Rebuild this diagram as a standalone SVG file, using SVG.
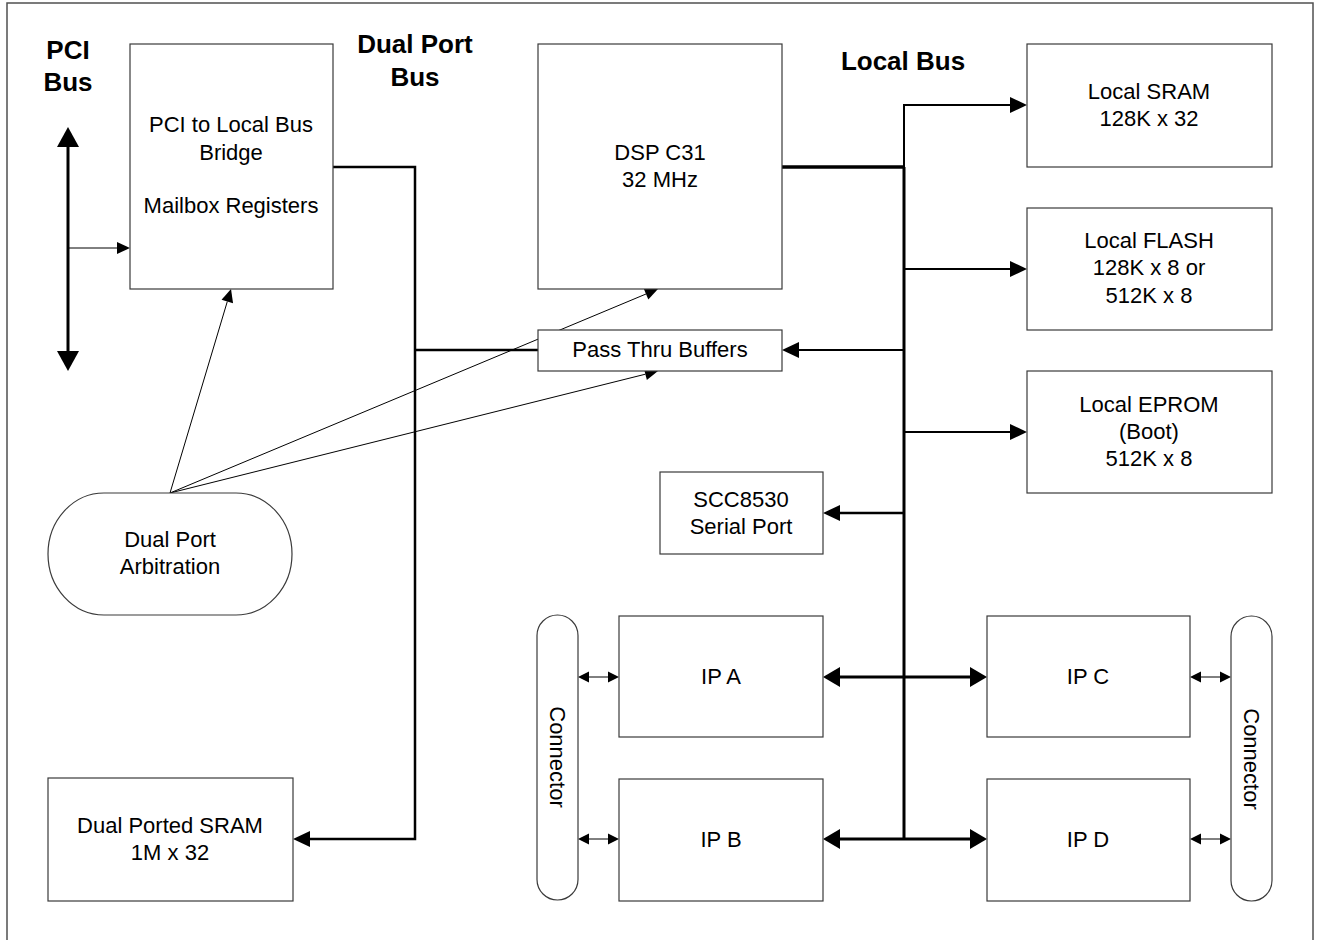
<svg xmlns="http://www.w3.org/2000/svg" width="1317" height="940" viewBox="0 0 1317 940">
<style>
  .box { fill: #ffffff; stroke: #3a3a3a; stroke-width: 1.2; }
  .t { font-family: "Liberation Sans", Arial, sans-serif; font-size: 22px; fill: #000; text-anchor: middle; }
  .h { font-family: "Liberation Sans", Arial, sans-serif; font-size: 26px; font-weight: bold; fill: #000; text-anchor: middle; }
  .w1 { fill: none; stroke: #000; stroke-width: 1; }
  .w2 { fill: none; stroke: #000; stroke-width: 2; }
  .w25 { fill: none; stroke: #000; stroke-width: 2.5; }
  .w3 { fill: none; stroke: #000; stroke-width: 3; }
</style>
<defs>
  <marker id="big" markerUnits="userSpaceOnUse" markerWidth="17" markerHeight="16" refX="0" refY="8" orient="auto-start-reverse" overflow="visible">
    <path d="M0,0 L17,8 L0,16 Z" fill="#000"/>
  </marker>
  <marker id="bigip" markerUnits="userSpaceOnUse" markerWidth="17" markerHeight="20" refX="0" refY="10" orient="auto-start-reverse" overflow="visible">
    <path d="M0,0 L17,10 L0,20 Z" fill="#000"/>
  </marker>
  <marker id="pci" markerUnits="userSpaceOnUse" markerWidth="20" markerHeight="22" refX="0" refY="11" orient="auto-start-reverse" overflow="visible">
    <path d="M0,0 L20,11 L0,22 Z" fill="#000"/>
  </marker>
  <marker id="thin" markerUnits="userSpaceOnUse" markerWidth="13" markerHeight="12" refX="0" refY="6" orient="auto-start-reverse" overflow="visible">
    <path d="M0,0 L13,6 L0,12 Z" fill="#000"/>
  </marker>
  <marker id="small" markerUnits="userSpaceOnUse" markerWidth="11" markerHeight="11" refX="0" refY="5.5" orient="auto-start-reverse" overflow="visible">
    <path d="M0,0 L11,5.5 L0,11 Z" fill="#000"/>
  </marker>
</defs>
<rect x="0" y="0" width="1317" height="940" fill="#ffffff"/>
<rect x="7" y="3" width="1306" height="950" fill="none" stroke="#505050" stroke-width="1.5"/>

<g id="labels">
  <text class="h" x="68" y="59">PCI</text>
  <text class="h" x="68" y="91">Bus</text>
  <text class="h" x="415" y="53">Dual Port</text>
  <text class="h" x="415" y="86">Bus</text>
  <text class="h" x="903" y="70">Local Bus</text>
</g>

<g id="connectors">
  <line class="w3" x1="68" y1="147" x2="68" y2="351" marker-start="url(#pci)" marker-end="url(#pci)"/>
  <line class="w1" x1="68" y1="248" x2="117" y2="248" marker-end="url(#thin)"/>
  <polyline class="w25" points="333,167 415,167 415,839 310,839" marker-end="url(#big)"/>
  <line class="w25" x1="415" y1="350" x2="538" y2="350"/>
  <line class="w3" x1="782" y1="167" x2="904" y2="167" style="stroke-width:3.5"/>
  <line class="w2" x1="904" y1="104" x2="904" y2="167"/>
  <line class="w3" x1="904" y1="167" x2="904" y2="839"/>
  <polyline class="w2" points="904,105 1010,105" marker-end="url(#big)"/>
  <line class="w2" x1="904" y1="269" x2="1010" y2="269" marker-end="url(#big)"/>
  <line class="w2" x1="904" y1="432" x2="1010" y2="432" marker-end="url(#big)"/>
  <line class="w2" x1="904" y1="350" x2="799" y2="350" marker-end="url(#big)"/>
  <line class="w25" x1="904" y1="513" x2="840" y2="513" marker-end="url(#big)"/>
  <line class="w3" x1="840" y1="677" x2="970" y2="677" marker-start="url(#bigip)" marker-end="url(#bigip)"/>
  <line class="w3" x1="840" y1="839" x2="970" y2="839" marker-start="url(#bigip)" marker-end="url(#bigip)"/>
  <line class="w1" x1="589" y1="677" x2="608" y2="677" marker-start="url(#small)" marker-end="url(#small)"/>
  <line class="w1" x1="589" y1="839" x2="608" y2="839" marker-start="url(#small)" marker-end="url(#small)"/>
  <line class="w1" x1="1201" y1="677" x2="1220" y2="677" marker-start="url(#small)" marker-end="url(#small)"/>
  <line class="w1" x1="1201" y1="839" x2="1220" y2="839" marker-start="url(#small)" marker-end="url(#small)"/>
  <line class="w1" x1="170" y1="493" x2="227.3" y2="301.5" marker-end="url(#thin)"/>
  <line class="w1" x1="170" y1="493" x2="646.0" y2="294.0" marker-end="url(#thin)"/>
  <line class="w1" x1="170" y1="493" x2="645.4" y2="374.2" marker-end="url(#thin)"/>
</g>

<g id="bridge">
  <rect class="box" x="130" y="44" width="203" height="245"/>
  <text class="t" x="231" y="132">PCI to Local Bus</text>
  <text class="t" x="231" y="160">Bridge</text>
  <text class="t" x="231" y="213">Mailbox Registers</text>
</g>

<g id="dsp">
  <rect class="box" x="538" y="44" width="244" height="245"/>
  <text class="t" x="660" y="160">DSP C31</text>
  <text class="t" x="660" y="187">32 MHz</text>
</g>

<g id="passthru">
  <rect class="box" x="538" y="330" width="244" height="41"/>
  <text class="t" x="660" y="357">Pass Thru Buffers</text>
</g>

<g id="arbitration">
  <rect class="box" x="48" y="493" width="244" height="122" rx="56" ry="61"/>
  <text class="t" x="170" y="547">Dual Port</text>
  <text class="t" x="170" y="574">Arbitration</text>
</g>

<g id="dpsram">
  <rect class="box" x="48" y="778" width="245" height="123"/>
  <text class="t" x="170" y="833">Dual Ported SRAM</text>
  <text class="t" x="170" y="860">1M x 32</text>
</g>

<g id="localsram">
  <rect class="box" x="1027" y="44" width="245" height="123"/>
  <text class="t" x="1149" y="99">Local SRAM</text>
  <text class="t" x="1149" y="126">128K x 32</text>
</g>

<g id="localflash">
  <rect class="box" x="1027" y="208" width="245" height="122"/>
  <text class="t" x="1149" y="248">Local FLASH</text>
  <text class="t" x="1149" y="275">128K x 8 or</text>
  <text class="t" x="1149" y="303">512K x 8</text>
</g>

<g id="localeprom">
  <rect class="box" x="1027" y="371" width="245" height="122"/>
  <text class="t" x="1149" y="412">Local EPROM</text>
  <text class="t" x="1149" y="439">(Boot)</text>
  <text class="t" x="1149" y="466">512K x 8</text>
</g>

<g id="scc">
  <rect class="box" x="660" y="472" width="163" height="82"/>
  <text class="t" x="741" y="507">SCC8530</text>
  <text class="t" x="741" y="534">Serial Port</text>
</g>

<g id="ipa">
  <rect class="box" x="619" y="616" width="204" height="121"/>
  <text class="t" x="721" y="684">IP A</text>
</g>

<g id="ipb">
  <rect class="box" x="619" y="779" width="204" height="122"/>
  <text class="t" x="721" y="847">IP B</text>
</g>

<g id="ipc">
  <rect class="box" x="987" y="616" width="203" height="121"/>
  <text class="t" x="1088" y="684">IP C</text>
</g>

<g id="ipd">
  <rect class="box" x="987" y="779" width="203" height="122"/>
  <text class="t" x="1088" y="847">IP D</text>
</g>

<g id="connector-left">
  <rect class="box" x="537" y="615" width="41" height="285" rx="20.5" ry="20.5"/>
  <text class="t" transform="translate(557.5,757) rotate(90)" x="0" y="8">Connector</text>
</g>

<g id="connector-right">
  <rect class="box" x="1231" y="616" width="41" height="285" rx="20.5" ry="20.5"/>
  <text class="t" transform="translate(1251.5,759) rotate(90)" x="0" y="8">Connector</text>
</g>
</svg>
